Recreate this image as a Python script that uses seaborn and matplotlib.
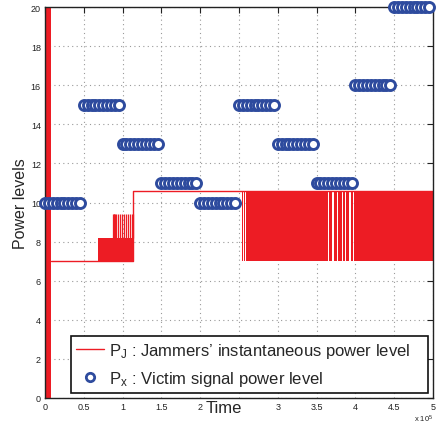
import numpy as np
import pandas as pd
import matplotlib
matplotlib.use("Agg")
import matplotlib.pyplot as plt
from matplotlib.ticker import MultipleLocator
import seaborn as sns

# ---- data -------------------------------------------------------------
# victim signal power: one level per 0.5e5 time slot, 10 samples each
slot_starts = [0.0, 0.5e5, 1.0e5, 1.5e5, 2.0e5, 2.5e5, 3.0e5, 3.5e5, 4.0e5, 4.5e5]
victim_levels = [10, 15, 13, 11, 10, 15, 13, 11, 16, 20]
sample_offsets = [0, 5e3, 10e3, 15e3, 20e3, 25e3, 30e3, 35e3, 40e3, 45e3]

# jammer power: steady portions of the trace (time, level)
jam_path_t = [0.075e5, 1.14e5, 1.14e5, 5.0e5]
jam_path_p = [7.0, 7.0, 10.6, 10.6]

# jammer power: rapidly switching portions (start, end, low, high)
jam_bands = [
    (0.0, 0.075e5, 0.0, 20.0),
    (0.685e5, 1.14e5, 7.0, 8.2),
    (2.545e5, 2.555e5, 7.0, 10.6),
    (2.565e5, 2.575e5, 7.0, 10.6),
    (2.59e5, 3.645e5, 7.0, 10.6),
    (3.66e5, 3.70e5, 7.0, 10.6),
    (3.725e5, 3.765e5, 7.0, 10.6),
    (3.78e5, 3.825e5, 7.0, 10.6),
    (3.84e5, 3.865e5, 7.0, 10.6),
    (3.88e5, 3.915e5, 7.0, 10.6),
    (3.945e5, 3.975e5, 7.0, 10.6),
    (3.985e5, 3.99e5, 7.0, 10.6),
    (3.998e5, 5.0e5, 7.0, 10.6),
]
# short bursts to the higher level near the end of the 7-8.2 phase
burst_times = [0.876e5, 0.884e5, 0.892e5, 0.90e5, 0.915e5, 0.945e5, 0.972e5,
               0.99e5, 1.015e5, 1.04e5, 1.068e5, 1.09e5, 1.118e5, 1.132e5]
burst_low, burst_high = 8.2, 9.4

# x tick labels; the one under the axis title is left blank
xtick_vals = [0, 0.5e5, 1e5, 1.5e5, 2e5, 2.5e5, 3e5, 3.5e5, 4e5, 4.5e5, 5e5]
xtick_text = ["0", "0.5", "1", "1.5", "2", "", "3", "3.5", "4", "4.5", "5"]

# ---- styling ----------------------------------------------------------
sns.set_theme(style="white")
plt.rcParams["font.family"] = ["Liberation Sans", "DejaVu Sans"]
plt.rcParams["mathtext.fontset"] = "custom"
plt.rcParams["mathtext.rm"] = "Liberation Sans"
plt.rcParams["mathtext.it"] = "Liberation Sans"
plt.rcParams["mathtext.default"] = "regular"

RED = "#ED1C24"
BLUE = "#2E4B9E"

fig = plt.figure(figsize=(4.36, 4.27), dpi=100)
ax = fig.add_axes([45 / 436, 1 - 399 / 427, 388 / 436, 391 / 427])

# jammer trace
for t0, t1, lo, hi in jam_bands:
    ax.fill_between([t0, t1], [lo, lo], [hi, hi], color=RED, lw=0, zorder=2)
ax.vlines(burst_times, burst_low, burst_high, color=RED, lw=0.9, zorder=2)
jam_df = pd.DataFrame({"t": jam_path_t, "p": jam_path_p})
sns.lineplot(data=jam_df, x="t", y="p", sort=False, estimator=None,
             color=RED, lw=1.0, ax=ax, zorder=2)

# victim signal samples
vt, vp = [], []
for s, lvl in zip(slot_starts, victim_levels):
    for off in sample_offsets:
        vt.append(s + off)
        vp.append(lvl)
vic_df = pd.DataFrame({"t": vt, "p": vp})
sns.scatterplot(data=vic_df, x="t", y="p", marker="o", s=52,
                facecolor="white", edgecolor=BLUE, linewidth=2.1,
                ax=ax, zorder=3, clip_on=False)

# axes
ax.set_xlim(0, 5e5)
ax.set_ylim(0, 20)
ax.set_xticks(xtick_vals)
ax.set_xticklabels(xtick_text)
ax.yaxis.set_major_locator(MultipleLocator(2))
ax.grid(True, ls=(0, (1, 3)), color="#9a9a9a", lw=0.8)
ax.set_axisbelow(True)
ax.tick_params(direction="in", length=4, width=0.8, labelsize=6.5,
               colors="#222222", top=True, right=True, pad=3)
for sp in ax.spines.values():
    sp.set_color("#222222")
    sp.set_linewidth(1.0)
ax.set_xlabel("Time", fontsize=12, labelpad=-7)
ax.xaxis.set_label_coords(0.46, -0.004, transform=ax.transAxes)
ax.xaxis.label.set_verticalalignment("top")
ax.set_ylabel("Power levels", fontsize=11.5, labelpad=2)
ax.text(1.0, -0.038, r"x 10$^5$", transform=ax.transAxes, ha="right",
        va="top", fontsize=5.5, color="#222222")

# legend
handles = [
    plt.Line2D([], [], color=RED, lw=1.0),
    plt.Line2D([], [], ls="none", marker="o", ms=6, mfc="white",
               mec=BLUE, mew=2.0),
]
labels = [r"P$_J$ : Jammers’ instantaneous power level",
          r"P$_x$ : Victim signal power level"]
leg = ax.legend(handles, labels, loc="lower left", mode="expand",
                bbox_to_anchor=(26 / 388, 5 / 391, 357 / 388, 58 / 391),
                fontsize=12, frameon=True, fancybox=False, framealpha=1,
                edgecolor="#111111", handlelength=1.7, handletextpad=0.3,
                borderpad=0.3, labelspacing=0.55, borderaxespad=0)
leg.get_frame().set_linewidth(1.2)
leg.set_zorder(5)

fig.savefig("out.png", dpi=100)
